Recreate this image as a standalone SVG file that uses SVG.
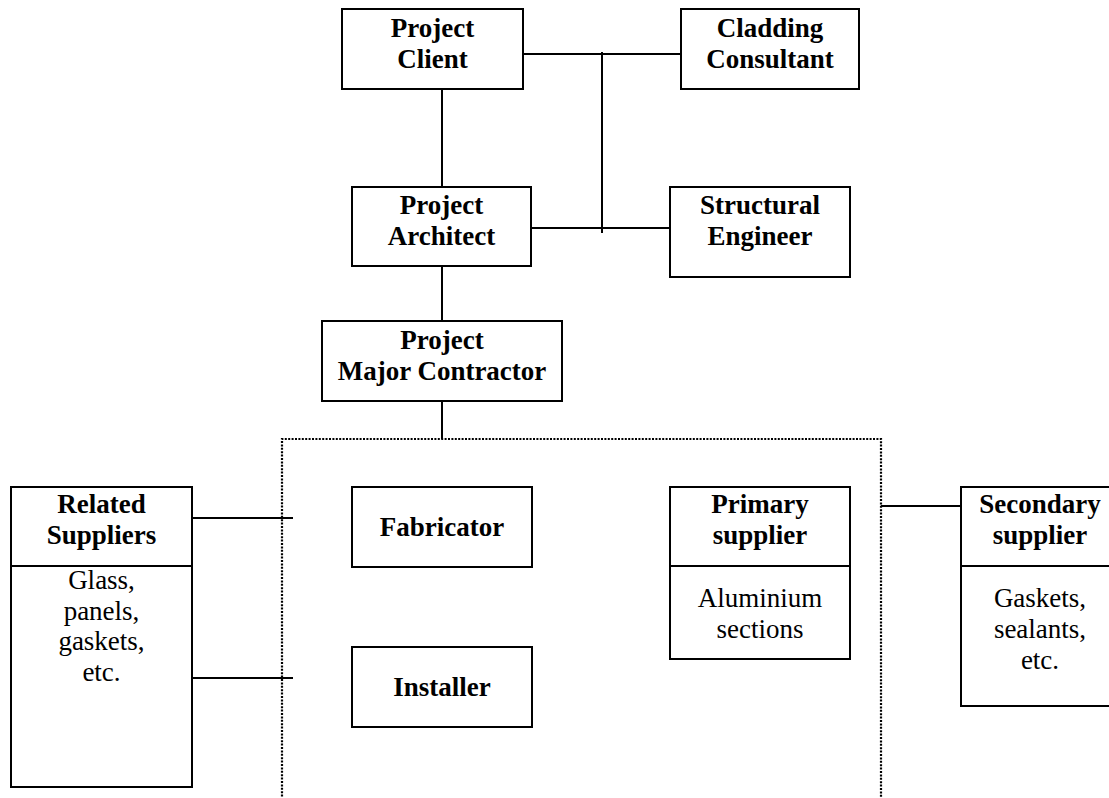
<svg xmlns="http://www.w3.org/2000/svg" width="1109" height="798" viewBox="0 0 1109 798">
<style>
.box{fill:#fff;stroke:#000;stroke-width:2}
.ln{stroke:#000;stroke-width:2;fill:none}
.dot{stroke:#000;stroke-width:2.2;fill:none;stroke-dasharray:2 1.4}
text{font-family:"Liberation Serif","Times New Roman",serif;font-size:27px;text-anchor:middle;fill:#000}
.b{font-weight:bold}
</style>
<rect width="1109" height="798" fill="#fff"/>
<g id="connectors">
<line class="ln" x1="523" y1="54" x2="681" y2="54"/>
<line class="ln" x1="602" y1="52" x2="602" y2="233"/>
<line class="ln" x1="442" y1="89" x2="442" y2="187"/>
<line class="ln" x1="531" y1="228" x2="670" y2="228"/>
<line class="ln" x1="442" y1="266" x2="442" y2="321"/>
<line class="ln" x1="442" y1="401" x2="442" y2="439"/>
<line class="ln" x1="192" y1="518" x2="293" y2="518"/>
<line class="ln" x1="192" y1="678" x2="293" y2="678"/>
<line class="ln" x1="881" y1="506" x2="961" y2="506"/>
</g>
<g id="group-boundary">
<path class="dot" d="M282,800 L282,439 L881,439 L881,800"/>
</g>
<g id="project-client">
<rect class="box" x="342" y="9" width="181" height="80"/>
<text class="b" x="432.5" y="37">Project</text>
<text class="b" x="432.5" y="68">Client</text>
</g>
<g id="cladding-consultant">
<rect class="box" x="681" y="9" width="178" height="80"/>
<text class="b" x="770" y="37">Cladding</text>
<text class="b" x="770" y="68">Consultant</text>
</g>
<g id="project-architect">
<rect class="box" x="352" y="187" width="179" height="79"/>
<text class="b" x="441.5" y="214">Project</text>
<text class="b" x="441.5" y="245">Architect</text>
</g>
<g id="structural-engineer">
<rect class="box" x="670" y="187" width="180" height="90"/>
<text class="b" x="760" y="214">Structural</text>
<text class="b" x="760" y="245">Engineer</text>
</g>
<g id="major-contractor">
<rect class="box" x="322" y="321" width="240" height="80"/>
<text class="b" x="442" y="349">Project</text>
<text class="b" x="442" y="380">Major Contractor</text>
</g>
<g id="related-suppliers">
<rect class="box" x="11" y="487" width="181" height="300"/>
<line class="ln" x1="11" y1="566" x2="192" y2="566"/>
<text class="b" x="101.5" y="513">Related</text>
<text class="b" x="101.5" y="544">Suppliers</text>
<text x="101.5" y="589">Glass,</text>
<text x="101.5" y="619.5">panels,</text>
<text x="101.5" y="650">gaskets,</text>
<text x="101.5" y="680.5">etc.</text>
</g>
<g id="fabricator">
<rect class="box" x="352" y="487" width="180" height="80"/>
<text class="b" x="442" y="536">Fabricator</text>
</g>
<g id="installer">
<rect class="box" x="352" y="647" width="180" height="80"/>
<text class="b" x="442" y="696">Installer</text>
</g>
<g id="primary-supplier">
<rect class="box" x="670" y="487" width="180" height="172"/>
<line class="ln" x1="670" y1="566" x2="850" y2="566"/>
<text class="b" x="760" y="513">Primary</text>
<text class="b" x="760" y="544">supplier</text>
<text x="760" y="607">Aluminium</text>
<text x="760" y="638">sections</text>
</g>
<g id="secondary-supplier">
<rect class="box" x="961" y="487" width="160" height="219"/>
<line class="ln" x1="961" y1="566" x2="1121" y2="566"/>
<text class="b" x="1040" y="513">Secondary</text>
<text class="b" x="1040" y="544">supplier</text>
<text x="1040" y="607">Gaskets,</text>
<text x="1040" y="638">sealants,</text>
<text x="1040" y="669">etc.</text>
</g>
</svg>
